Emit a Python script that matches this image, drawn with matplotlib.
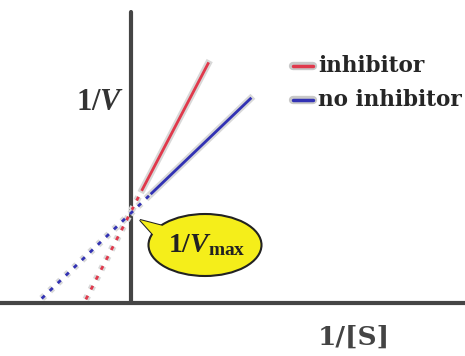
import matplotlib
matplotlib.use("Agg")
import matplotlib.pyplot as plt
from matplotlib.patches import Ellipse, Polygon
import matplotlib.patheffects as pe

plt.rcParams['mathtext.fontset'] = 'custom'
plt.rcParams['mathtext.rm'] = 'Liberation Serif:bold'
plt.rcParams['mathtext.it'] = 'Liberation Serif:italic:bold'
plt.rcParams['mathtext.bf'] = 'Liberation Serif:bold'
plt.rcParams['font.family'] = ['Liberation Serif', 'DejaVu Serif']

# Data (x = 1/[S], y = 1/V)
red_solid_x = [0.12, 0.82]
red_solid_y = [1.26, 2.66]
red_dash_x = [-0.48, 0.12]
red_dash_y = [0.04, 1.26]
blue_solid_x = [0.22, 1.27]
blue_solid_y = [1.22, 2.27]
blue_dash_x = [-0.95, 0.22]
blue_dash_y = [0.05, 1.22]
legend_labels = ["inhibitor", "no inhibitor"]
legend_colors = ["#e0394c", "#3232b4"]
x_label = "1/[S]"
y_label = r"$1/V$"
callout_label = r"$1/V_{\rm max}$"

RED = legend_colors[0]
BLUE = legend_colors[1]
AX = "#454545"
W, H = 465, 356

fig = plt.figure(figsize=(4.65, 3.56), dpi=100)
ax = fig.add_axes([0, 0, 1, 1])
ax.set_xlim(-131 / 94, 334 / 94)
ax.set_ylim(-53 / 90, 303 / 90)
ax.axis('off')

halo = [pe.Stroke(linewidth=5, foreground="#d8d8d8"), pe.Normal()]

# axes
ax.plot([-131 / 94, 334 / 94], [0, 0], color=AX, lw=3, solid_capstyle='butt', zorder=2)
ax.plot([0, 0], [0, 3.23], color=AX, lw=3, solid_capstyle='round', zorder=2)

# lines
ax.plot(red_dash_x, red_dash_y, color=RED, lw=2, ls=(0, (1.5, 2.5)), zorder=3, path_effects=halo)
ax.plot(blue_dash_x, blue_dash_y, color=BLUE, lw=2, ls=(0, (1.5, 2.5)), zorder=3, path_effects=halo)
ax.plot(red_solid_x, red_solid_y, color=RED, lw=2, zorder=3, path_effects=halo)
ax.plot(blue_solid_x, blue_solid_y, color=BLUE, lw=2, zorder=3, path_effects=halo)

# legend (manual, axes-fraction coordinates)
for i, (lab, col) in enumerate(zip(legend_labels, legend_colors)):
    yy = 1 - (66 + 34 * i) / H
    ax.plot([293 / W, 313 / W], [yy, yy], color=col, lw=2.5, transform=ax.transAxes,
            solid_capstyle='round', path_effects=[pe.Stroke(linewidth=6, foreground="#c8c8c8"), pe.Normal()])
    ax.text(318 / W, yy, lab, transform=ax.transAxes, ha='left', va='center',
            family='DejaVu Serif', weight='bold', fontsize=15.5, color="#262626")

# callout
cx, cy = (205 - 131) / 94, (303 - 245) / 90
tail = [[(140 - 131) / 94, (303 - 220) / 90],
        [(163 - 131) / 94, (303 - 226) / 90],
        [(158 - 131) / 94, (303 - 240) / 90]]
ax.add_patch(Polygon(tail, closed=True, facecolor="#f5ee1a", edgecolor="#222222", lw=1.5, zorder=4))
ax.add_patch(Ellipse((cx, cy), 113 / 94, 62 / 90, facecolor="#f5ee1a", edgecolor="#222222", lw=1.5, zorder=5))
ax.add_patch(Polygon(tail, closed=True, facecolor="#f5ee1a", edgecolor="none", lw=0, zorder=6))
ax.text(cx + 0.02, cy, callout_label, fontsize=20, ha='center', va='center', color="#222222", zorder=7)

# axis labels
ax.text((100 - 131) / 94, (303 - 102) / 90, y_label, fontsize=22, ha='center', va='center', color="#333333")
ax.text((354 - 131) / 94, (303 - 337) / 90, x_label, fontsize=19, ha='center', va='center',
        color="#444444", weight='bold', family='DejaVu Serif')

fig.savefig("out.png", dpi=100)
